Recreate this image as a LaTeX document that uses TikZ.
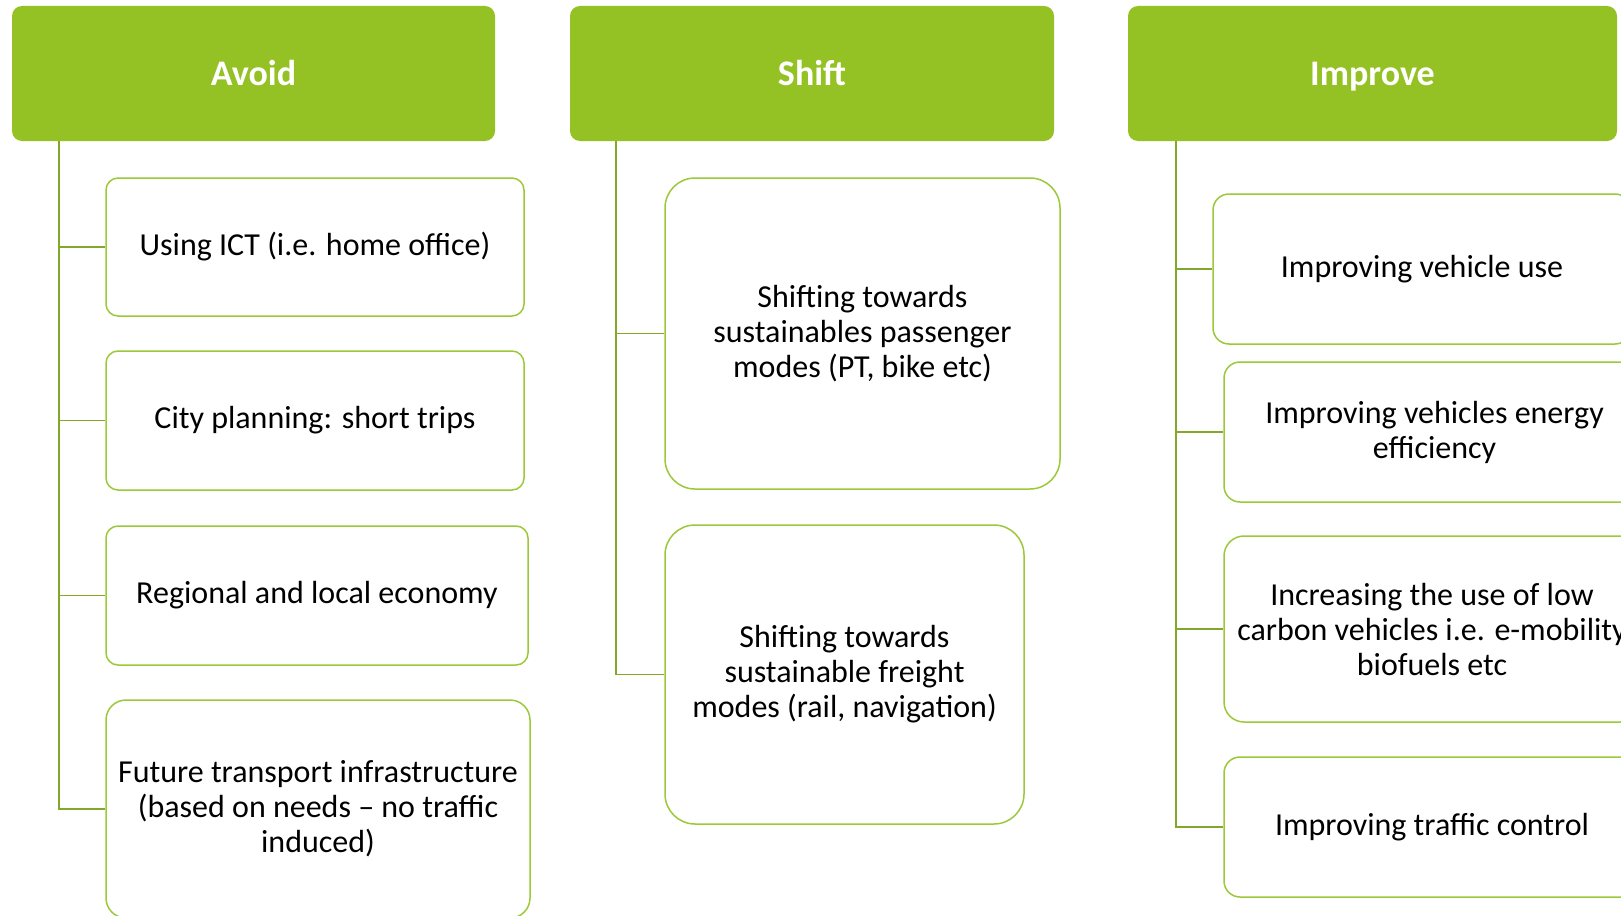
\documentclass[tikz,border=0pt]{standalone}
\usepackage{fontspec}
\setmainfont{Carlito}
\definecolor{hdrgreen}{HTML}{94C123}
\definecolor{boxgreen}{HTML}{9CC83A}
\definecolor{linegreen}{HTML}{82A82A}
\begin{document}
\begin{tikzpicture}[x=0.5pt,y=-0.5pt,
  header/.style={fill=hdrgreen, draw=none, rounded corners=5pt, text=white,
    font=\fontsize{18}{21}\selectfont\bfseries, inner sep=0pt,
    text height=11.6pt, text depth=0pt, minimum height=67.5pt},
  item/.style={draw=boxgreen, line width=0.75pt, fill=white, align=center,
    inner sep=0pt, font=\fontsize{16}{17.5}\selectfont},
  link/.style={draw=linegreen, line width=0.75pt}]
\useasboundingbox (0,0) rectangle (1621,915);
\clip (0,0) rectangle (1621,915);

% column headers
\node[header, minimum width=241.5pt] (hA) at (253.5,73.5) {Avoid};
\node[header, minimum width=242pt]   (hS) at (812,73.5)   {Shift};
\node[header, minimum width=244.5pt] (hI) at (1372.5,73.5) {Improve};

% Avoid column
\node[item, rounded corners=6pt, minimum width=209pt, minimum height=69pt] (a1) at (315,247)
  {Using ICT (i.e. home office)};
\node[item, rounded corners=6pt, minimum width=209pt, minimum height=69.5pt] (a2) at (315,420.5)
  {City planning: short trips};
\node[item, rounded corners=6pt, minimum width=211pt, minimum height=69.5pt] (a3) at (317,595.5)
  {Regional and local economy};
\node[item, rounded corners=10pt, minimum width=212pt, minimum height=109pt] (a4) at (318,809)
  {Future transport infrastructure\\(based on needs -- no traffic\\induced)};

% Shift column
\node[item, rounded corners=15pt, minimum width=197.5pt, minimum height=155.5pt] (s1) at (862.5,333.5)
  {Shifting towards\\sustainables passenger\\modes (PT, bike etc)};
\node[item, rounded corners=15pt, minimum width=179.5pt, minimum height=149.5pt] (s2) at (844.5,674.5)
  {Shifting towards\\sustainable freight\\modes (rail, navigation)};

% Improve column
\node[item, rounded corners=8pt, minimum width=209pt, minimum height=75pt] (i1) at (1422,269)
  {Improving vehicle use};
\node[item, rounded corners=8pt, minimum width=210.5pt, minimum height=70pt] (i2) at (1434.5,432)
  {Improving vehicles energy\\efficiency};
\node[item, rounded corners=10pt, minimum width=208pt, minimum height=93pt] (i3) at (1432,629)
  {Increasing the use of low\\carbon vehicles i.e. e-mobility\\biofuels etc};
\node[item, rounded corners=8pt, minimum width=208pt, minimum height=70pt] (i4) at (1432,827)
  {Improving traffic control};

% tree connectors
\coordinate (avT) at (59,141);
\coordinate (shT) at (616,141);
\coordinate (imT) at (1176,141);

\draw[link] (avT) |- (a4.west);
\foreach \n in {a1,a2,a3} \draw[link] (avT |- \n.west) -- (\n.west);

\draw[link] (shT) |- (s2.west);
\draw[link] (shT |- s1.west) -- (s1.west);

\draw[link] (imT) |- (i4.west);
\foreach \n in {i1,i2,i3} \draw[link] (imT |- \n.west) -- (\n.west);
\end{tikzpicture}
\end{document}
